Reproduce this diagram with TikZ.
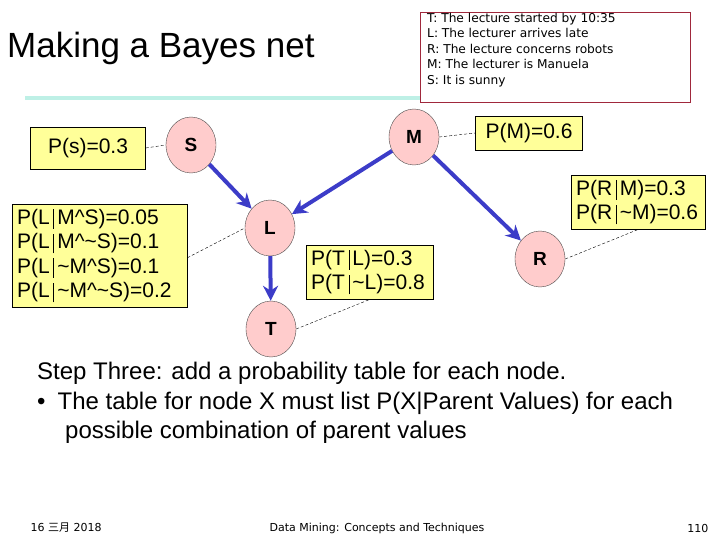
\documentclass[tikz,border=0pt]{standalone}
\usepackage{fontspec}
\setmainfont{Liberation Sans}
\newfontfamily\cjk{Noto Sans CJK SC}
\newfontfamily\tah{DejaVu Sans}
\begin{document}
\begin{tikzpicture}[x=1pt,y=-1pt,
  nd/.style={ellipse,draw=black!70,fill={rgb,255:red,255;green,204;blue,204},minimum width=50pt,minimum height=56pt,inner sep=0pt,font=\fontsize{19}{21}\selectfont\bfseries},
  tb/.style={draw=black,fill={rgb,255:red,255;green,255;blue,153},inner sep=5pt,align=left,font=\fontsize{21}{24.5}\selectfont},
  ar/.style={draw={rgb,255:red,60;green,60;blue,200},line width=4pt,-{Stealth[length=15pt,width=15pt]}},
  dl/.style={densely dashed,thin,draw=black}]
\usetikzlibrary{shapes.geometric,arrows.meta}
\useasboundingbox (0,0) rectangle (720,540);
\fill[white] (0,0) rectangle (720,540);
\node[anchor=west,font=\fontsize{35}{38}\selectfont,inner sep=0pt] (title) at (7,48) {Making a Bayes net};
\draw[line width=4pt,draw={rgb,255:red,190;green,240;blue,230}] (25,98) -- (690,98);
\node[draw={rgb,255:red,160;green,40;blue,60},fill=white,minimum width=270pt,minimum height=90pt,anchor=north west,inner sep=0pt] (def) at (420,12) {};
\node[anchor=north west,align=left,font=\tah\fontsize{12.2}{15.5}\selectfont,inner sep=0pt] (deft) at (427,13) {T: The lecture started by 10:35\\L: The lecturer arrives late\\R: The lecture concerns robots\\M: The lecturer is Manuela\\S: It is sunny};
\node[nd] (S) at (191,145) {S};
\node[nd] (M) at (414,137) {M};
\node[nd] (L) at (270,228) {L};
\node[nd] (R) at (540,259) {R};
\node[nd] (T) at (271,329) {T};
\node[tb,minimum width=115pt,minimum height=42pt,align=center] (ps) at (88,148) {P(s)=0.3};
\node[tb,minimum width=107pt,minimum height=34pt,align=center] (pm) at (529,133) {P(M)=0.6};
\node[tb,anchor=north west,text width=165pt] (pl) at (12,204) {P(L\,\vrule\,M\^{}S)=0.05\\P(L\,\vrule\,M\^{}\textasciitilde S)=0.1\\P(L\,\vrule\,\textasciitilde M\^{}S)=0.1\\P(L\,\vrule\,\textasciitilde M\^{}\textasciitilde S)=0.2};
\node[tb,anchor=north west,text width=117pt] (pt) at (306,245) {P(T\,\vrule\,L)=0.3\\P(T\,\vrule\,\textasciitilde L)=0.8};
\node[tb,anchor=north west,text width=124pt] (pr) at (571,175) {P(R\,\vrule\,M)=0.3\\P(R\,\vrule\,\textasciitilde M)=0.6};
\draw[ar] (S) -- (L);
\draw[ar] (M) -- (L);
\draw[ar] (M) -- (R);
\draw[ar] (L) -- (T);
\draw[dl] (ps.east) -- (S.west);
\draw[dl] (M.east) -- (pm.west);
\draw[dl] (pl.east) ++(0,2) -- (L.west);
\draw[dl] (T.east) -- (pt.south);
\draw[dl] (R.east) -- (pr.south);
\node[anchor=north west,align=left,font=\fontsize{24}{29.5}\selectfont,inner sep=0pt] (step) at (37,362) {Step Three: add a probability table for each node.\\
\textbullet\hspace{12pt}The table for node X must list P(X|Parent Values) for each\\
\hspace{28pt}possible combination of parent values};
\node[anchor=west,font=\tah\fontsize{11}{13}\selectfont] (d) at (27,528) {16 {\cjk 三月} 2018};
\node[font=\tah\fontsize{11}{13}\selectfont] (f) at (377,528) {Data Mining: Concepts and Techniques};
\node[anchor=east,font=\tah\fontsize{11}{13}\selectfont] (n) at (712,528) {110};
\end{tikzpicture}
\end{document}
